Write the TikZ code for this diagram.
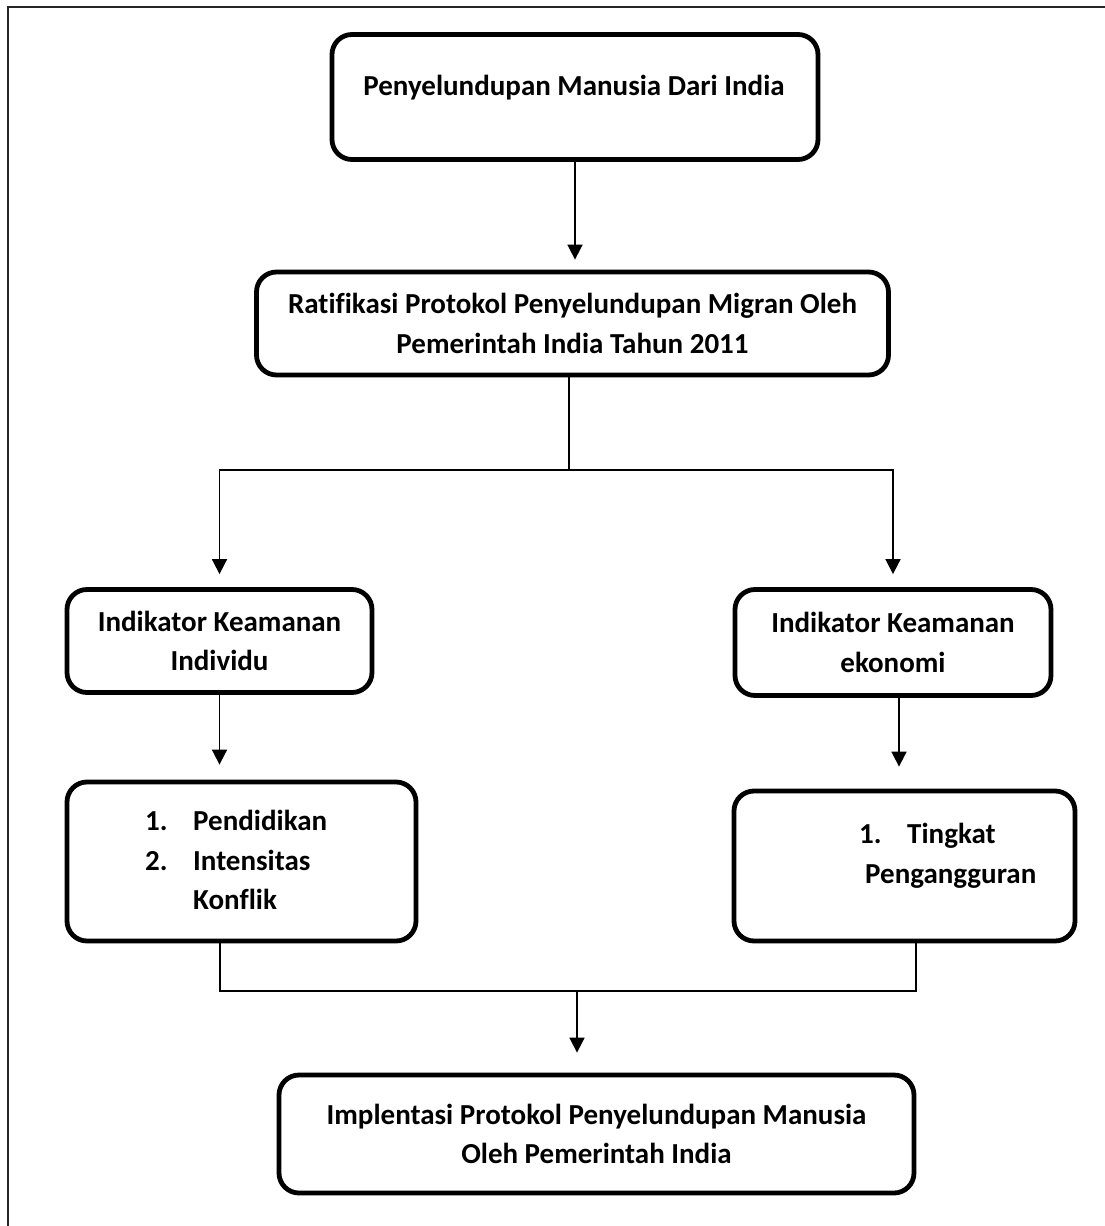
\documentclass[tikz,border=0pt]{standalone}
\usepackage{fontspec}
\setmainfont{Carlito}[Ligatures=CommonOff]
\usetikzlibrary{arrows.meta}

\tikzset{
  kotak/.style={draw, line width=4.8pt, rounded corners=20pt, inner sep=0pt},
  teks/.style={font=\fontsize{29}{39.5}\selectfont\bfseries, align=center, inner sep=0pt},
  garis/.style={line width=1.7pt},
  panah/.style={line width=1.7pt, -{Triangle[length=15pt,width=15pt]}}
}

\begin{document}
\begin{tikzpicture}[x=1pt,y=-1pt]
        \useasboundingbox (0,0) rectangle (1105,1226);
        \draw[line width=1.5pt, black!85] (8,1226) -- (8,7) -- (1105,7);
        % kotak-kotak
        \node[kotak, minimum width=486pt, minimum height=125pt] (asal) at (575,97) {};
        \node[teks] (asal-teks) at (574,88) {Penyelundupan Manusia Dari India};
        \node[kotak, teks, minimum width=632pt, minimum height=103pt] (ratifikasi) at (572.5,323.5)
            {Ratifikasi Protokol Penyelundupan Migran Oleh\\Pemerintah India Tahun 2011};
        \node[kotak, teks, minimum width=305pt, minimum height=103pt] (indiv) at (219.5,641)
            {Indikator Keamanan\\Individu};
        \node[kotak, teks, minimum width=316pt, minimum height=106pt] (ekon) at (893,642.5)
            {Indikator Keamanan\\ekonomi};
        \node[kotak, minimum width=349pt, minimum height=159pt] (daftar1) at (241.5,861.5) {};
        \node[teks, align=left, anchor=west] (daftar1-teks) at (145,860)
            {\makebox[48pt][l]{1.}Pendidikan\\\makebox[48pt][l]{2.}Intensitas\\\hspace*{48pt}Konflik};
        \node[kotak, minimum width=341pt, minimum height=150pt] (daftar2) at (904.5,866) {};
        \node[teks, align=left, anchor=west] (daftar2-teks) at (859,856)
            {\makebox[48pt][l]{1.}Tingkat\\\hspace*{6pt}Pengangguran};
        \node[kotak, teks, minimum width=635pt, minimum height=118pt] (implementasi) at (596.5,1134)
            {Implentasi Protokol Penyelundupan Manusia\\Oleh Pemerintah India};
        % garis dan panah
        \draw[panah, shorten >=10pt] (asal.south) -- (asal.south |- ratifikasi.north);
        \coordinate (cabang) at (569,470);
        \draw[garis] (ratifikasi.south -| cabang) -- (cabang);
        \draw[panah, shorten >=13pt] (cabang) -| (indiv.north);
        \draw[panah, shorten >=13pt] (cabang) -| (ekon.north);
        \draw[panah, shorten >=15pt] (indiv.south) -- (indiv.south |- daftar1.north);
        \draw[panah, shorten >=22pt] ([xshift=6pt]ekon.south) -- ([xshift=6pt]ekon.south |- daftar2.north);
        \coordinate (gabung) at (577,991);
        \draw[garis] ([xshift=-21.5pt]daftar1.south) |- (gabung) -| ([xshift=11.5pt]daftar2.south);
        \draw[panah, shorten >=20pt] (gabung) -- (gabung |- implementasi.north);
    \end{tikzpicture}
\end{document}
